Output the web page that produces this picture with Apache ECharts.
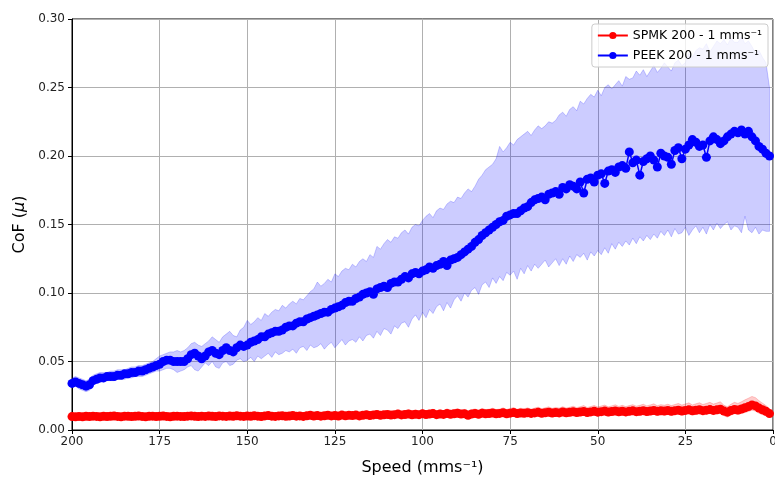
<!DOCTYPE html>
<html>
<head>
<meta charset="utf-8">
<script src="https://cdn.jsdelivr.net/npm/echarts@6/dist/echarts.min.js"></script>
<style>
  html, body { margin: 0; padding: 0; background: #ffffff; }
  #chart { width: 775px; height: 477px; }
</style>
</head>
<body>
<div id="chart"></div>
<script>
// Sliding speed (mm/s), from 200 down to 1
const speed = [
  200,199,198,197,196,195,194,193,192,191,
  190,189,188,187,186,185,184,183,182,181,
  180,179,178,177,176,175,174,173,172,171,
  170,169,168,167,166,165,164,163,162,161,
  160,159,158,157,156,155,154,153,152,151,
  150,149,148,147,146,145,144,143,142,141,
  140,139,138,137,136,135,134,133,132,131,
  130,129,128,127,126,125,124,123,122,121,
  120,119,118,117,116,115,114,113,112,111,
  110,109,108,107,106,105,104,103,102,101,
  100,99,98,97,96,95,94,93,92,91,
  90,89,88,87,86,85,84,83,82,81,
  80,79,78,77,76,75,74,73,72,71,
  70,69,68,67,66,65,64,63,62,61,
  60,59,58,57,56,55,54,53,52,51,
  50,49,48,47,46,45,44,43,42,41,
  40,39,38,37,36,35,34,33,32,31,
  30,29,28,27,26,25,24,23,22,21,
  20,19,18,17,16,15,14,13,12,11,
  10,9,8,7,6,5,4,3,2,1
];

// PEEK: mean CoF and the spread band
const peekMean = [
  .034,.035,.034,.033,.032,.033,.036,.037,.038,.038,
  .039,.039,.039,.040,.040,.041,.041,.042,.042,.043,
  .043,.044,.045,.046,.047,.048,.050,.051,.051,.050,
  .050,.050,.050,.052,.055,.056,.054,.052,.054,.057,
  .058,.056,.055,.058,.060,.058,.057,.060,.062,.061,
  .062,.064,.065,.066,.068,.068,.070,.071,.072,.072,
  .073,.075,.076,.076,.078,.079,.079,.081,.082,.083,
  .084,.085,.086,.086,.088,.089,.090,.091,.093,.094,
  .094,.096,.097,.099,.100,.101,.099,.103,.104,.105,
  .104,.107,.108,.108,.110,.112,.111,.114,.115,.114,
  .116,.117,.119,.118,.120,.121,.123,.120,.124,.125,
  .126,.128,.130,.132,.134,.137,.139,.142,.144,.146,
  .148,.150,.152,.153,.156,.157,.158,.158,.160,.162,
  .163,.166,.168,.169,.170,.168,.172,.173,.174,.172,
  .177,.176,.179,.178,.176,.181,.173,.183,.184,.181,
  .186,.187,.180,.189,.190,.188,.192,.193,.191,.203,
  .195,.197,.186,.196,.198,.200,.197,.192,.202,.200,
  .199,.194,.204,.206,.198,.205,.208,.212,.210,.207,
  .208,.199,.211,.214,.212,.209,.211,.214,.216,.218,
  .217,.219,.216,.218,.214,.211,.207,.205,.202,.200
];
const peekUpper = [
  .038,.039,.038,.037,.036,.037,.040,.041,.042,.042,
  .042,.043,.043,.044,.044,.044,.045,.046,.046,.047,
  .047,.048,.049,.050,.052,.054,.055,.056,.057,.057,
  .058,.057,.058,.060,.063,.064,.062,.061,.063,.065,
  .068,.066,.064,.068,.070,.072,.069,.068,.073,.075,
  .080,.077,.079,.082,.080,.085,.083,.086,.088,.087,
  .091,.089,.092,.094,.092,.096,.095,.098,.101,.103,
  .108,.105,.107,.110,.108,.114,.112,.116,.118,.117,
  .121,.119,.123,.125,.123,.128,.126,.134,.132,.136,
  .139,.137,.141,.140,.144,.146,.143,.148,.150,.149,
  .153,.156,.158,.155,.160,.162,.161,.165,.167,.166,
  .170,.169,.173,.176,.174,.178,.183,.186,.190,.192,
  .194,.198,.207,.203,.206,.210,.208,.212,.214,.216,
  .218,.215,.219,.222,.220,.222,.225,.224,.226,.230,
  .232,.229,.234,.236,.233,.240,.238,.242,.245,.243,
  .248,.244,.250,.252,.249,.252,.255,.251,.258,.256,
  .257,.262,.259,.263,.258,.262,.266,.261,.264,.268,
  .265,.262,.268,.270,.266,.268,.275,.272,.277,.279,
  .278,.282,.276,.280,.284,.282,.285,.281,.286,.283,
  .283,.287,.282,.284,.280,.275,.277,.272,.268,.250
];
const peekLower = [
  .031,.032,.030,.029,.028,.029,.033,.034,.035,.035,
  .036,.036,.036,.037,.037,.037,.038,.038,.039,.039,
  .039,.040,.041,.042,.043,.043,.044,.045,.045,.044,
  .042,.043,.044,.046,.047,.044,.043,.046,.049,.047,
  .050,.046,.045,.049,.050,.047,.048,.051,.052,.050,
  .051,.053,.050,.054,.052,.054,.056,.053,.057,.055,
  .056,.058,.057,.059,.056,.060,.061,.058,.062,.060,
  .061,.063,.059,.062,.064,.060,.063,.066,.062,.065,
  .066,.064,.068,.065,.069,.070,.067,.072,.069,.074,
  .073,.070,.076,.074,.078,.079,.075,.081,.084,.080,
  .086,.082,.088,.085,.090,.092,.087,.093,.089,.095,
  .098,.094,.100,.097,.102,.104,.099,.106,.108,.104,
  .111,.107,.112,.109,.115,.113,.116,.110,.118,.114,
  .120,.116,.121,.118,.121,.124,.119,.122,.125,.120,
  .125,.121,.127,.123,.128,.126,.129,.124,.130,.127,
  .131,.128,.133,.129,.136,.132,.137,.134,.138,.135,
  .140,.136,.141,.138,.142,.139,.143,.140,.145,.142,
  .146,.141,.147,.143,.144,.148,.142,.146,.149,.144,
  .148,.143,.150,.146,.151,.147,.150,.152,.146,.149,
  .148,.144,.156,.146,.144,.148,.143,.146,.145,.145
];

// SPMK: mean CoF and the spread band
const spmkMean = [
  .0098,.0096,.0099,.0097,.0100,.0098,.0101,.0099,.0097,.0100,
  .0098,.0100,.0102,.0099,.0097,.0101,.0100,.0098,.0100,.0102,
  .0099,.0097,.0100,.0101,.0098,.0100,.0102,.0099,.0097,.0100,
  .0101,.0099,.0098,.0101,.0103,.0100,.0098,.0101,.0099,.0102,
  .0100,.0098,.0103,.0101,.0099,.0102,.0100,.0104,.0101,.0099,
  .0102,.0100,.0104,.0101,.0098,.0103,.0105,.0101,.0099,.0103,
  .0104,.0100,.0102,.0106,.0101,.0103,.0099,.0104,.0107,.0102,
  .0105,.0101,.0104,.0108,.0103,.0106,.0102,.0109,.0104,.0107,
  .0105,.0109,.0103,.0108,.0111,.0106,.0110,.0113,.0107,.0111,
  .0114,.0109,.0112,.0116,.0110,.0113,.0117,.0111,.0115,.0112,
  .0118,.0113,.0116,.0120,.0112,.0117,.0114,.0121,.0115,.0118,
  .0122,.0116,.0119,.0108,.0117,.0121,.0115,.0123,.0118,.0120,
  .0124,.0118,.0121,.0126,.0119,.0123,.0127,.0120,.0124,.0122,
  .0126,.0121,.0125,.0129,.0122,.0126,.0130,.0124,.0128,.0125,
  .0131,.0126,.0129,.0133,.0127,.0131,.0135,.0128,.0132,.0136,
  .0130,.0134,.0138,.0131,.0135,.0139,.0133,.0137,.0132,.0136,
  .0140,.0134,.0137,.0141,.0135,.0139,.0143,.0136,.0140,.0138,
  .0142,.0137,.0141,.0145,.0139,.0143,.0147,.0140,.0144,.0148,
  .0141,.0145,.0149,.0143,.0147,.0152,.0138,.0130,.0142,.0150,
  .0146,.0153,.0162,.0171,.0183,.0176,.0160,.0148,.0136,.0120
];
const spmkUpper = [
  .0112,.0110,.0114,.0111,.0115,.0112,.0116,.0113,.0111,.0115,
  .0113,.0116,.0118,.0114,.0112,.0117,.0115,.0113,.0116,.0119,
  .0115,.0112,.0116,.0118,.0114,.0116,.0120,.0115,.0113,.0117,
  .0118,.0115,.0114,.0119,.0122,.0117,.0115,.0119,.0116,.0121,
  .0118,.0115,.0122,.0120,.0117,.0121,.0119,.0125,.0121,.0117,
  .0122,.0119,.0125,.0121,.0117,.0124,.0127,.0121,.0118,.0124,
  .0126,.0120,.0123,.0130,.0122,.0125,.0119,.0127,.0132,.0124,
  .0128,.0122,.0127,.0133,.0125,.0130,.0124,.0135,.0127,.0131,
  .0128,.0134,.0126,.0133,.0138,.0130,.0136,.0141,.0131,.0137,
  .0142,.0134,.0139,.0146,.0136,.0141,.0148,.0137,.0144,.0139,
  .0149,.0140,.0145,.0152,.0139,.0147,.0142,.0155,.0144,.0149,
  .0155,.0145,.0150,.0136,.0148,.0154,.0144,.0158,.0149,.0152,
  .0159,.0149,.0153,.0162,.0150,.0157,.0164,.0152,.0159,.0155,
  .0162,.0153,.0160,.0167,.0155,.0162,.0169,.0158,.0165,.0160,
  .0170,.0161,.0166,.0174,.0163,.0170,.0178,.0164,.0171,.0179,
  .0168,.0175,.0182,.0169,.0176,.0184,.0172,.0180,.0171,.0178,
  .0185,.0174,.0180,.0188,.0176,.0183,.0191,.0177,.0185,.0181,
  .0188,.0178,.0186,.0194,.0182,.0190,.0198,.0183,.0191,.0199,
  .0186,.0194,.0202,.0189,.0197,.0206,.0180,.0170,.0188,.0202,
  .0194,.0206,.0220,.0232,.0245,.0236,.0214,.0196,.0178,.0155
];
const spmkLower = [
  .0085,.0083,.0086,.0084,.0087,.0085,.0088,.0086,.0084,.0086,
  .0084,.0086,.0088,.0085,.0083,.0087,.0086,.0084,.0086,.0088,
  .0085,.0083,.0086,.0087,.0084,.0086,.0088,.0085,.0082,.0086,
  .0087,.0084,.0083,.0086,.0088,.0085,.0082,.0086,.0084,.0087,
  .0085,.0082,.0088,.0086,.0083,.0087,.0084,.0089,.0086,.0082,
  .0087,.0084,.0089,.0085,.0081,.0087,.0089,.0084,.0082,.0087,
  .0088,.0083,.0086,.0090,.0084,.0087,.0081,.0088,.0091,.0085,
  .0088,.0083,.0087,.0091,.0085,.0088,.0083,.0091,.0086,.0089,
  .0086,.0090,.0083,.0089,.0092,.0086,.0090,.0093,.0086,.0091,
  .0093,.0087,.0091,.0094,.0087,.0091,.0095,.0088,.0092,.0089,
  .0095,.0089,.0093,.0097,.0087,.0094,.0090,.0098,.0091,.0094,
  .0098,.0091,.0095,.0082,.0092,.0097,.0090,.0099,.0094,.0096,
  .0099,.0092,.0096,.0101,.0093,.0098,.0102,.0094,.0099,.0097,
  .0100,.0094,.0099,.0103,.0095,.0100,.0104,.0097,.0102,.0098,
  .0104,.0098,.0101,.0106,.0099,.0104,.0108,.0100,.0105,.0109,
  .0101,.0106,.0110,.0102,.0107,.0111,.0104,.0109,.0103,.0108,
  .0111,.0104,.0108,.0112,.0105,.0110,.0114,.0106,.0111,.0108,
  .0112,.0106,.0111,.0116,.0108,.0113,.0117,.0109,.0114,.0118,
  .0110,.0115,.0119,.0112,.0116,.0121,.0104,.0094,.0108,.0118,
  .0114,.0121,.0128,.0135,.0145,.0138,.0122,.0112,.0102,.0092
];

const xTicks = { min: 0, max: 200, step: 25 };
const yTicks = { min: 0, max: 0.30, step: 0.05 };
const spmkName = 'SPMK 200 - 1 mms\u207B\u00B9';
const peekName = 'PEEK 200 - 1 mms\u207B\u00B9';

const FONT = 'DejaVu Sans';

function pairs(values) {
  return speed.map((s, i) => [s, values[i]]);
}

// Shaded spread between lower and upper curves, drawn as one polygon
function band(upper, lower, rgba) {
  return {
    type: 'custom',
    coordinateSystem: 'cartesian2d',
    silent: true,
    z: 1,
    data: [[speed[0], upper[0]]],
    renderItem: function (params, api) {
      const top = speed.map((s, i) => api.coord([s, upper[i]]));
      const bottom = speed.map((s, i) => api.coord([s, lower[i]])).reverse();
      return {
        type: 'polygon',
        shape: { points: top.concat(bottom) },
        style: { fill: rgba, stroke: rgba, lineWidth: 1 }
      };
    }
  };
}

function meanLine(name, values, color) {
  return {
    name: name,
    type: 'line',
    data: pairs(values),
    z: 3,
    symbol: 'circle',
    symbolSize: 9,
    showSymbol: true,
    showAllSymbol: true,
    itemStyle: { color: color },
    lineStyle: { color: color, width: 1.5 },
    emphasis: { disabled: true }
  };
}

const chart = echarts.init(document.getElementById('chart'), null, { renderer: 'canvas' });
chart.setOption({
  animation: false,
  backgroundColor: '#ffffff',
  textStyle: { fontFamily: FONT },
  grid: {
    left: 72, right: 2, top: 19, bottom: 47,
    containLabel: false,
    outerBoundsMode: 'none',
    show: true, borderColor: '#000000', borderWidth: 1, backgroundColor: 'transparent'
  },
  legend: {
    data: [spmkName, peekName],
    orient: 'vertical',
    right: 7,
    top: 24,
    itemWidth: 30,
    itemHeight: 9,
    itemGap: 7,
    padding: [5, 6, 5, 5],
    backgroundColor: 'rgba(255,255,255,0.8)',
    borderColor: '#cccccc',
    borderWidth: 1,
    borderRadius: 3,
    textStyle: { fontFamily: FONT, fontSize: 12.5, color: '#000000' }
  },
  xAxis: {
    type: 'value',
    inverse: true,
    min: xTicks.min,
    max: xTicks.max,
    interval: xTicks.step,
    name: 'Speed (mms\u207B\u00B9)',
    nameLocation: 'middle',
    nameGap: 30,
    nameTextStyle: { fontFamily: FONT, fontSize: 16, color: '#000000' },
    axisLine: { show: true, onZero: false, lineStyle: { color: '#000000', width: 1 } },
    axisTick: { show: true, length: 4, lineStyle: { color: '#000000' } },
    axisLabel: { fontFamily: FONT, fontSize: 12, color: '#222222', margin: 6 },
    splitLine: { show: true, lineStyle: { color: '#b0b0b0', width: 1 } }
  },
  yAxis: {
    type: 'value',
    min: yTicks.min,
    max: yTicks.max,
    interval: yTicks.step,
    name: '{a|CoF (}{b|\u03BC}{a|)}',
    nameLocation: 'middle',
    nameGap: 43,
    nameRotate: 90,
    nameTextStyle: {
      rich: {
        a: { fontFamily: FONT, fontSize: 16, color: '#000000' },
        b: { fontFamily: FONT, fontSize: 16, fontStyle: 'italic', color: '#000000' }
      }
    },
    axisLine: { show: true, onZero: false, lineStyle: { color: '#000000', width: 1 } },
    axisTick: { show: true, length: 4, lineStyle: { color: '#000000' } },
    axisLabel: {
      fontFamily: FONT, fontSize: 12, color: '#222222', margin: 7,
      formatter: v => v.toFixed(2)
    },
    splitLine: { show: true, lineStyle: { color: '#b0b0b0', width: 1 } }
  },
  series: [
    band(peekUpper, peekLower, 'rgba(0,0,255,0.2)'),
    band(spmkUpper, spmkLower, 'rgba(255,0,0,0.2)'),
    meanLine(spmkName, spmkMean, '#ff0000'),
    meanLine(peekName, peekMean, '#0000ff')
  ]
});
</script>
</body>
</html>
